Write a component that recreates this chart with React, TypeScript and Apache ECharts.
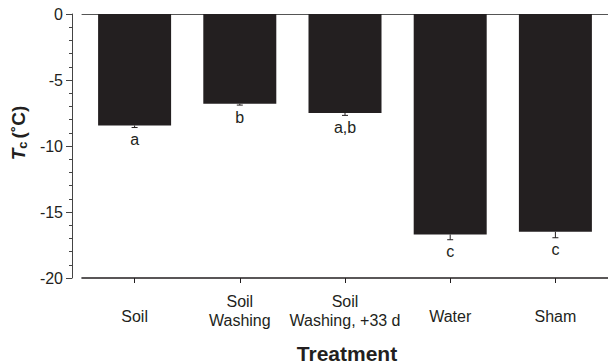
import React, { useEffect, useRef } from "react";
import * as echarts from "echarts";

const categories = ["Soil", "Soil\nWashing", "Soil\nWashing, +33 d", "Water", "Sham"];
const means = [-8.45, -6.8, -7.5, -16.7, -16.5];
const errors = [0.15, 0.1, 0.18, 0.4, 0.45];
const letters = ["a", "b", "a,b", "c", "c"];
const yMin = -20;
const yMax = 0;
const yInterval = 5;

const FONT = "Liberation Sans, Arial, Helvetica, sans-serif";
const INK = "#231f20";

export default function App() {
  const ref = useRef<HTMLDivElement>(null);
  useEffect(() => {
    document.body.style.margin = "0";
    const chart = echarts.init(ref.current!, undefined, { renderer: "svg" });
    const errData = means.map((m, i) => [i, m, errors[i]]);
    chart.setOption({
      animation: false,
      textStyle: { fontFamily: FONT },
      grid: { left: 82, width: 530, top: 14, height: 264 },
      xAxis: [
        {
          type: "category",
          data: categories,
          position: "bottom",
          axisLine: { onZero: false, lineStyle: { color: INK, width: 1.6 } },
          axisTick: { show: true, alignWithLabel: true, length: 5, lineStyle: { color: INK } },
          axisLabel: {
            interval: 0,
            fontSize: 16,
            color: INK,
            fontFamily: FONT,
            lineHeight: 19,
            margin: 14,
            verticalAlign: "top",
            formatter: (v: string) => (v.indexOf("\n") >= 0 ? v : "{one|" + v + "}"),
            rich: { one: { lineHeight: 48, fontSize: 16, color: INK, fontFamily: FONT } },
          },
          splitLine: { show: false },
        },
        {
          type: "category",
          data: categories,
          position: "top",
          axisLine: { onZero: false, lineStyle: { color: "#555", width: 1 } },
          axisTick: { show: false },
          axisLabel: { show: false },
          splitLine: { show: false },
        },
      ],
      yAxis: {
        type: "value",
        min: yMin,
        max: yMax,
        interval: yInterval,
        offset: 10,
        axisLine: { show: true, lineStyle: { color: "#444", width: 1 } },
        axisTick: { show: true, length: 6, lineStyle: { color: "#444" } },
        minorTick: { show: true, splitNumber: 5, length: 3, lineStyle: { color: "#444" } },
        splitLine: { show: false },
        axisLabel: { fontSize: 16, color: INK, fontFamily: FONT, margin: 9 },
      },
      graphic: [
        {
          type: "text",
          x: 347,
          y: 353,
          style: {
            text: "Treatment",
            fontSize: 21,
            fontWeight: "bold",
            fill: INK,
            fontFamily: FONT,
            align: "center",
            verticalAlign: "middle",
          },
        },
        {
          type: "text",
          x: 18,
          y: 133,
          rotation: Math.PI / 2,
          style: {
            text: "{t|T}{s|c}{u|(˚C)}",
            align: "center",
            verticalAlign: "middle",
            rich: {
              t: { fontSize: 19, fontWeight: "bold", fontStyle: "italic", fill: INK, fontFamily: FONT },
              s: { fontSize: 13, fontWeight: "bold", fill: INK, fontFamily: FONT, padding: [8, 3, 0, 0] },
              u: { fontSize: 19, fontWeight: "bold", fill: INK, fontFamily: FONT },
            },
          },
        },
      ],
      series: [
        {
          type: "bar",
          data: means,
          barWidth: 73,
          itemStyle: { color: INK },
          xAxisIndex: 0,
        },
        {
          type: "custom",
          xAxisIndex: 0,
          data: errData,
          z: 5,
          renderItem: (params: any, api: any) => {
            const i = api.value(0);
            const m = api.value(1);
            const e = api.value(2);
            const top = api.coord([i, m]);
            const low = api.coord([i, m - e]);
            const x = top[0];
            return {
              type: "group",
              children: [
                { type: "line", shape: { x1: x, y1: top[1], x2: x, y2: low[1] }, style: { stroke: INK, lineWidth: 1 } },
                { type: "line", shape: { x1: x - 3, y1: low[1], x2: x + 3, y2: low[1] }, style: { stroke: INK, lineWidth: 1 } },
                {
                  type: "text",
                  x: x,
                  y: low[1] + 4,
                  style: {
                    text: letters[params.dataIndex],
                    fontSize: 16,
                    fill: INK,
                    fontFamily: FONT,
                    align: "center",
                    verticalAlign: "top",
                  },
                },
              ],
            };
          },
        },
      ],
    });
    return () => chart.dispose();
  }, []);
  return <div ref={ref} style={{ width: 608, height: 364 }} />;
}
